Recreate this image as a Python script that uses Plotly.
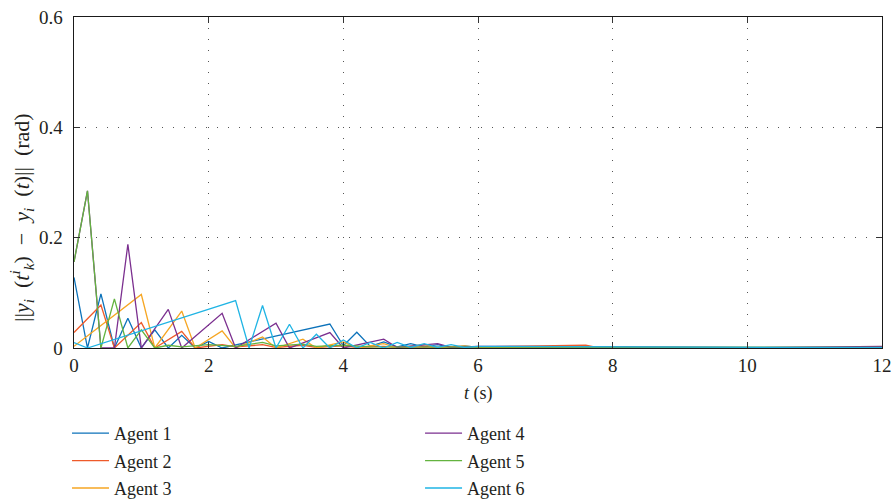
import plotly.graph_objects as go

# ---- data (vertices) ----
agent_names = ["Agent 1", "Agent 2", "Agent 3", "Agent 4", "Agent 5", "Agent 6"]
agent_colors = ["#0C72BA", "#EE5A2A", "#F6A623", "#7B2F8F", "#63B33F", "#1FB4E4"]

t1 = [0, 0.2, 0.4, 0.6, 0.8, 1.0, 1.2, 1.4, 1.6, 1.8, 2.0, 2.2, 3.8, 4.0, 4.2, 4.4, 4.6, 4.8, 5.0, 5.2, 5.4, 5.6, 5.8, 6.0, 12]
y1 = [0.128, 0, 0.098, 0, 0.054, 0, 0.033, 0, 0.023, 0, 0.012, 0, 0.0435, 0.004, 0.0285, 0.003, 0.011, 0.002, 0.008, 0.002, 0.006, 0.001, 0.004, 0.001, 0.001]

t2 = [0, 0.4, 0.6, 1.0, 1.2, 1.6, 1.8, 2.2, 2.4, 2.8, 3.0, 3.4, 3.6, 4.0, 4.2, 4.6, 4.8, 5.2, 5.4, 5.8, 6.0, 7.6, 7.8, 8.2, 8.4, 12]
y2 = [0.028, 0.078, 0, 0.046, 0, 0.030, 0, 0.006, 0.002, 0.006, 0.001, 0.005, 0.001, 0.004, 0.001, 0.003, 0.001, 0.002, 0.001, 0.002, 0.002, 0.005, 0, 0.002, 0, 0.0005]

t3 = [0, 1.0, 1.2, 1.6, 1.8, 2.2, 2.4, 2.8, 3.0, 3.4, 3.6, 4.0, 4.2, 4.6, 4.8, 5.2, 5.4, 5.8, 6.0, 12]
y3 = [0.003, 0.097, 0, 0.067, 0, 0.031, 0, 0.020, 0, 0.016, 0, 0.011, 0, 0.008, 0, 0.006, 0.001, 0.004, 0.001, 0.001]

t4 = [0, 0.2, 0.4, 0.6, 0.8, 1.0, 1.4, 1.6, 2.2, 2.4, 3.0, 3.2, 3.8, 4.0, 4.6, 4.8, 5.4, 5.6, 6.0, 10, 12]
y4 = [0.156, 0.285, 0, 0, 0.188, 0, 0.070, 0, 0.063, 0, 0.045, 0, 0.028, 0, 0.016, 0.001, 0.008, 0.001, 0.003, 0.0005, 0.003]

t5 = [0, 0.2, 0.4, 0.6, 0.8, 1.0, 1.2, 1.4, 1.6, 2.0, 2.4, 2.8, 3.0, 3.4, 3.6, 4.0, 4.4, 5.0, 6.0, 12]
y5 = [0.156, 0.285, 0, 0.089, 0, 0.033, 0, 0.005, 0.002, 0.006, 0.003, 0.010, 0.004, 0.007, 0.003, 0.005, 0.002, 0.002, 0.001, 0.001]

t6 = [0, 0.2, 2.4, 2.6, 2.8, 3.0, 3.2, 3.4, 3.6, 3.8, 4.0, 4.2, 4.4, 4.6, 4.8, 5.0, 5.2, 5.4, 5.6, 5.8, 6.0, 12]
y6 = [0.010, 0, 0.086, 0, 0.077, 0, 0.043, 0, 0.025, 0, 0.0145, 0, 0.010, 0, 0.010, 0.001, 0.008, 0.001, 0.006, 0.001, 0.003, 0.0005]

x_ticks = [0, 2, 4, 6, 8, 10, 12]
y_ticks = [0, 0.2, 0.4, 0.6]
y_tick_text = ["0", "0.2", "0.4", "0.6"]

series_t = [t1, t2, t3, t4, t5, t6]
series_y = [y1, y2, y3, y4, y5, y6]

FONT = "Liberation Serif"
TXT = "#231F20"
EN = "\u2002"
PAD = "\u00a0\u200a"

fig = go.Figure()
for k in range(6):
    fig.add_trace(go.Scatter(
        x=series_t[k], y=series_y[k], mode="lines", name=agent_names[k],
        line=dict(color=agent_colors[k], width=1.3),
        legend="legend" if k < 3 else "legend2",
        legendgroup=f"g{k}",
    ))

axis_common = dict(
    showline=True, linecolor="#1a1a1a", linewidth=1, mirror="ticks",
    ticks="inside", ticklen=6, tickcolor="#333333", tickwidth=1,
    showgrid=True, gridcolor="#555555", gridwidth=1, griddash="1px,10px",
    zeroline=False, tickfont=dict(family=FONT, size=19, color=TXT),
)

fig.update_xaxes(range=[0, 12], tickvals=x_ticks, **axis_common)
fig.update_yaxes(range=[0, 0.6], tickvals=y_ticks,
                 ticktext=[s + PAD for s in y_tick_text], **axis_common)

legend_common = dict(
    orientation="v", bgcolor="rgba(0,0,0,0)", borderwidth=0,
    font=dict(family=FONT, size=18, color=TXT),
    xanchor="left", yanchor="top", tracegroupgap=1, itemwidth=37,
    xref="container", yref="container",
)

ytitle = ("||<i>y</i><sub><i>i</i></sub>" + EN + "(<i>t</i><sup><i>i</i></sup><sub><i>k</i></sub>)"
          + EN + "−" + EN + "<i>y</i><sub><i>i</i></sub>" + EN + "(<i>t</i>)||" + EN + "(rad)")

fig.update_layout(
    width=896, height=502,
    margin=dict(l=74, r=14, t=17, b=154, autoexpand=False),
    paper_bgcolor="white", plot_bgcolor="white",
    font=dict(family=FONT, size=18, color=TXT),
    legend=dict(x=0.0748, y=0.1733, **legend_common),
    legend2=dict(x=0.4688, y=0.1733, **legend_common),
    annotations=[
        dict(
            text=ytitle,
            xref="paper", yref="paper", x=-0.0644, y=0.396, textangle=-90,
            showarrow=False, xanchor="center", yanchor="middle",
            font=dict(family=FONT, size=22, color=TXT),
        ),
        dict(
            text="<i>t</i> (s)", xref="paper", yref="paper", x=0.5, y=-0.136,
            showarrow=False, xanchor="center", yanchor="middle",
            font=dict(family=FONT, size=18, color=TXT),
        ),
    ],
)

fig.write_html(
    "out.html",
    config={"displayModeBar": False},
    post_script="document.body.style.margin='0';document.body.style.overflow='hidden';",
)
